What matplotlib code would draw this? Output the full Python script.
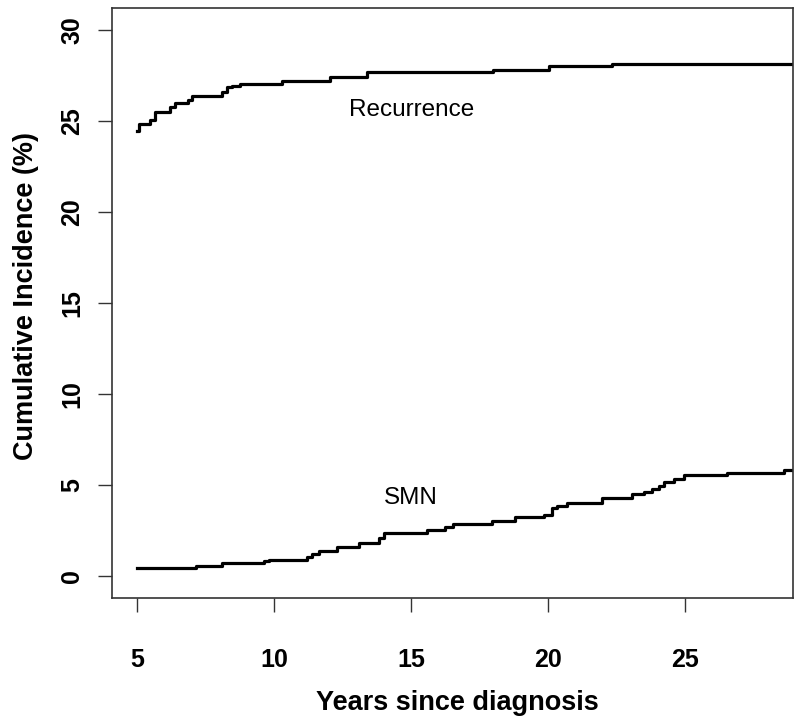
import matplotlib
matplotlib.use("Agg")
import matplotlib.pyplot as plt

plt.rcParams['font.family'] = ['Liberation Sans', 'DejaVu Sans']

# Recurrence cumulative incidence (step function)
rec_t = [5.0, 5.05, 5.47, 5.66, 6.2, 6.39, 6.87, 7.0, 8.11, 8.27, 8.45, 8.76,
         10.27, 12.04, 13.38, 17.99, 20.01, 22.32, 29.5]
rec_v = [24.45, 24.85, 25.05, 25.5, 25.75, 25.98, 26.16, 26.35, 26.6, 26.85, 26.94, 27.0,
         27.18, 27.42, 27.67, 27.81, 28.03, 28.12, 28.12]

# SMN cumulative incidence (step function)
smn_t = [5.0, 7.14, 8.09, 9.61, 9.8, 11.19, 11.37, 11.62, 12.29, 13.08, 13.81, 14.0,
         15.58, 16.24, 16.54, 17.94, 18.8, 19.83, 20.13, 20.31, 20.68, 21.96, 23.05,
         23.48, 23.78, 24.03, 24.21, 24.58, 24.94, 26.52, 28.59, 29.5]
smn_v = [0.45, 0.55, 0.73, 0.83, 0.91, 1.07, 1.21, 1.36, 1.60, 1.80, 2.07, 2.38,
         2.52, 2.70, 2.89, 3.03, 3.23, 3.38, 3.74, 3.88, 4.03, 4.30, 4.52,
         4.65, 4.79, 4.97, 5.19, 5.34, 5.57, 5.66, 5.83, 5.83]

x_ticks = [5, 10, 15, 20, 25]
y_ticks = [0, 5, 10, 15, 20, 25, 30]

fig = plt.figure(figsize=(8.0, 7.22), dpi=100)
ax = fig.add_axes([0.14, 0.1717, 0.851, 0.8172])

ax.step(rec_t, rec_v, where='post', color='black', lw=2.3)
ax.step(smn_t, smn_v, where='post', color='black', lw=2.3)

ax.text(15.0, 25.6, 'Recurrence', ha='center', va='center', fontsize=17.5)
ax.text(15.0, 4.3, 'SMN', ha='center', va='center', fontsize=17.5)

ax.set_xlim(4.08, 28.92)
ax.set_ylim(-1.2, 31.2)
ax.set_xticks(x_ticks)
ax.set_yticks(y_ticks)
ax.set_xticklabels([str(v) for v in x_ticks], fontsize=18, fontweight='bold')
ax.set_yticklabels([str(v) for v in y_ticks], fontsize=18, fontweight='bold',
                   rotation=90, va='center')
ax.tick_params(axis='x', length=10, width=1.0, color='#333333', pad=26)
ax.tick_params(axis='y', length=10, width=1.0, color='#333333', pad=10)
for s in ax.spines.values():
    s.set_color('#333333')
    s.set_linewidth(1.2)

fig.text(457 / 800, 1 - 703 / 722, 'Years since diagnosis', fontsize=19.5,
         fontweight='bold', ha='center', va='center')
fig.text(26 / 800, 1 - 296 / 722, 'Cumulative Incidence (%)', fontsize=19.5,
         fontweight='bold', ha='center', va='center', rotation=90)

fig.savefig('out.png', dpi=100)
